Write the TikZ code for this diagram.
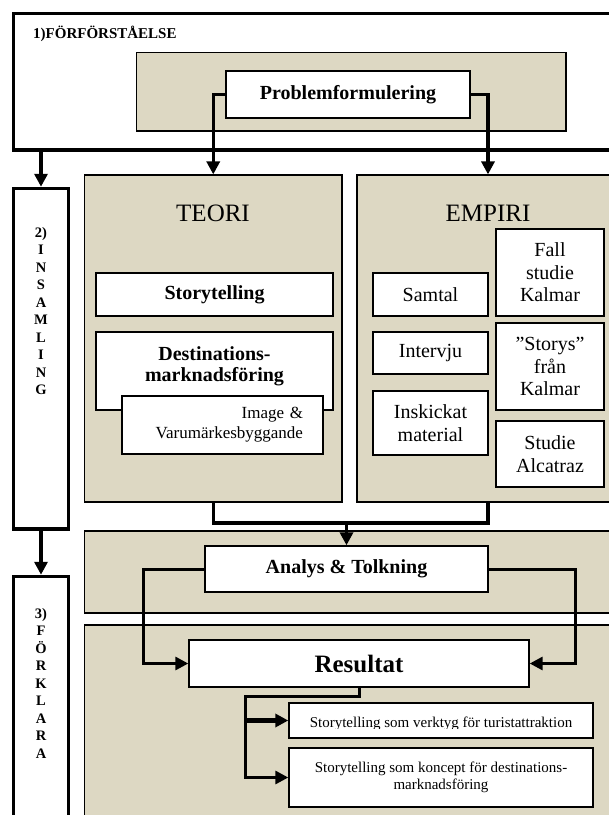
\documentclass[tikz,border=0pt]{standalone}
\usepackage{fontspec}
\setmainfont{Liberation Serif}
\usetikzlibrary{arrows.meta}
\definecolor{panelfill}{RGB}{221,216,195}

\tikzset{
  stagebox/.style={draw, line width=3.5pt, fill=white, inner sep=0pt},
  panel/.style={draw, line width=1.2pt, fill=panelfill, inner sep=0pt},
  wbox/.style={draw, line width=1.4pt, fill=white, inner sep=0pt, align=center},
  tipA/.style={-{Triangle[length=13pt,width=13pt]}},
  flow/.style={line width=3.5pt, tipA},
  feedline/.style={line width=3pt},
  boldtxt/.style={font=\fontsize{20}{21}\selectfont\bfseries},
  bigbold/.style={font=\fontsize{25}{27}\selectfont\bfseries},
  headtxt/.style={font=\fontsize{25}{27}\selectfont},
  plaintxt/.style={font=\fontsize{20}{22.5}\selectfont},
  smalltxt/.style={font=\fontsize{15}{17}\selectfont},
  vertlbl/.style={font=\fontsize{14.5}{17.5}\selectfont\bfseries, align=center, inner sep=0pt},
}

\begin{document}
\begin{tikzpicture}[x=1pt, y=-1pt, line join=miter]
\useasboundingbox (0,0) rectangle (609,815);
\clip (0,0) rectangle (609,815);

% ---------- stage 1 ----------
\node[stagebox, minimum width=611.5pt, minimum height=136.5pt] (stage1) at (319.25,81.75) {};
\node[anchor=west, inner sep=0pt, font=\fontsize{15}{17}\selectfont\bfseries] (stage1lbl) at (33,34) {1)FÖRFÖRSTÅELSE};
\node[panel, minimum width=429.5pt, minimum height=78.5pt] (tan1) at (351.25,91.75) {};
\node[wbox, boldtxt, minimum width=244pt, minimum height=47pt] (prob) at (348,94.5) {Problemformulering};

% ---------- stage 2 ----------
\node[stagebox, minimum width=55pt, minimum height=340.5pt] (stage2) at (41,358.75) {};
\node[vertlbl] (stage2lbl) at (41,311) {2)\\I\\N\\S\\A\\M\\L\\I\\N\\G};

% theory panel
\node[panel, minimum width=257.5pt, minimum height=327pt] (teori) at (213.25,338.5) {};
\node[headtxt, inner sep=0pt] (teorihead) at (213,213) {TEORI};
\node[wbox, boldtxt, minimum width=237pt, minimum height=43pt] (story) at (214.5,294.5) {Storytelling};
\node[wbox, minimum width=237pt, minimum height=78pt] (dest) at (214.5,371) {};
\node[boldtxt, align=center, inner sep=0pt] (destlbl) at (214.5,366) {Destinations-\\marknadsföring};
\node[wbox, minimum width=201pt, minimum height=58pt, text width=161pt, align=right,
      font=\fontsize{17}{20}\selectfont] (image) at (222.5,425) {Image \&\\Varumärkesbyggande};

% empirical panel
\node[panel, minimum width=262pt, minimum height=327pt] (empiri) at (488,338.5) {};
\node[headtxt, inner sep=0pt] (empirihead) at (488,213) {EMPIRI};
\node[wbox, plaintxt, minimum width=115pt, minimum height=43pt] (samtal) at (430.5,294.5) {Samtal};
\node[wbox, plaintxt, minimum width=115pt, minimum height=42pt] (intervju) at (430.5,353) {Intervju};
\node[wbox, plaintxt, minimum width=115pt, minimum height=64pt] (inskickat) at (430.5,423) {Inskickat\\material};
\node[wbox, plaintxt, minimum width=108pt, minimum height=87pt] (fall) at (550,272.5) {Fall\\studie\\Kalmar};
\node[wbox, plaintxt, minimum width=108pt, minimum height=87pt] (storys) at (550,366.5) {”Storys”\\från\\Kalmar};
\node[wbox, plaintxt, minimum width=108pt, minimum height=66pt] (alcatraz) at (550,454) {Studie\\Alcatraz};

% ---------- stage 3 ----------
\node[stagebox, minimum width=55pt, minimum height=253.5pt] (stage3) at (41,703.25) {};
\node[vertlbl] (stage3lbl) at (41,683) {3)\\F\\Ö\\R\\K\\L\\A\\R\\A};

\node[panel, minimum width=540.5pt, minimum height=82pt] (band2) at (354.75,572) {};
\node[wbox, boldtxt, minimum width=283pt, minimum height=46pt] (analys) at (346.5,569) {Analys \& Tolkning};

\node[panel, minimum width=540.5pt, minimum height=205pt] (band3) at (354.75,727.5) {};
\node[wbox, bigbold, minimum width=340pt, minimum height=47pt] (resultat) at (359,663.5) {Resultat};
\node[wbox, minimum width=304pt, minimum height=35pt] (verktyg) at (441,720.5) {};
\begin{scope}
  % the text box is too short: descenders are cut off just below the baseline
  \clip (289,703) rectangle (593,728);
  \node[smalltxt, inner sep=0pt, anchor=base] (verktyglbl) at (441,727) {Storytelling som verktyg för turistattraktion};
\end{scope}
\node[wbox, smalltxt, minimum width=304pt, minimum height=59pt] (koncept) at (441,777.5)
  {Storytelling som koncept för destinations-\\marknadsföring};

% ---------- connectors ----------
\draw[flow] (prob.west) -| (teori.north);
\draw[flow] (prob.east) -| (empiri.north);
\draw[flow] (stage1.south -| stage2.north) -- (stage2.north);
\draw[flow] (stage2.south) -- (stage3.north);

\coordinate (mergeY) at (0,523);
\draw[line width=3.5pt] (teori.south) -- (teori.south |- mergeY) -- (empiri.south |- mergeY) -- (empiri.south);
\draw[flow] (analys.north |- mergeY) -- (analys.north);

\coordinate (loopL) at (143,663.5);
\coordinate (loopR) at (575,663.5);
\draw[feedline, tipA] (analys.west) -| (loopL) -- (resultat.west);
\draw[feedline, tipA] (analys.east) -| (loopR) -- (resultat.east);

\coordinate (branch) at (245,696);
\draw[feedline, tipA] (resultat.south) |- (branch) |- (koncept.west);
\draw[line width=5pt, tipA] (branch |- verktyg.west) -- (verktyg.west);
\end{tikzpicture}
\end{document}
